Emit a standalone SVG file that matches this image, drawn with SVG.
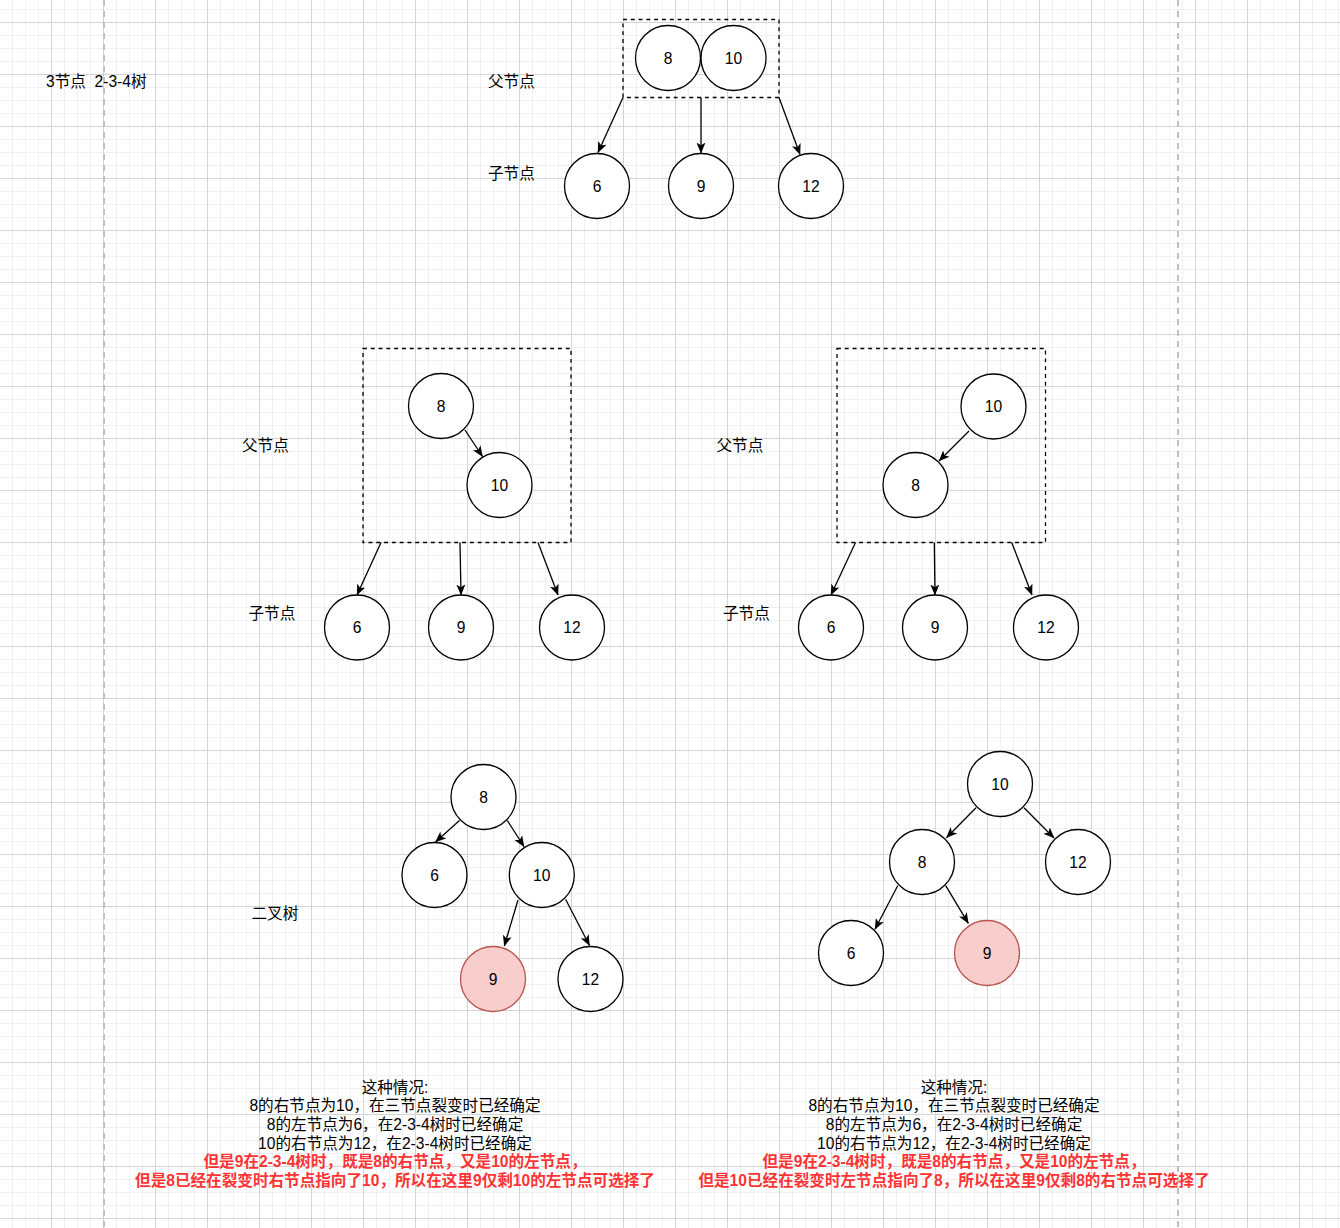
<svg xmlns="http://www.w3.org/2000/svg" width="1340" height="1228" viewBox="0 0 1340 1228">
<style>
text{font-family:"Liberation Sans","Noto Sans CJK SC",sans-serif;font-size:15.6px;fill:#000}
.c{fill:#fff;stroke:#000;stroke-width:1.3}
.r{fill:#f8cecc;stroke:#b85450;stroke-width:1.3}
.n{text-anchor:middle}
.box{fill:none;stroke:#000;stroke-width:1.3;stroke-dasharray:3.9 3.9}
.e{fill:none;stroke:#000;stroke-width:1.3;marker-end:url(#arr)}
.red{fill:#ff3333;font-weight:bold}
.sep{stroke:#c0c0c0;stroke-width:2;stroke-dasharray:6 5}
</style>
<defs>
<pattern id="minor" patternUnits="userSpaceOnUse" x="12" y="9" width="13" height="13">
<rect x="0" y="0" width="1" height="13" fill="#f0f0f0"/>
<rect x="0" y="0" width="13" height="1" fill="#f0f0f0"/>
</pattern>
<pattern id="major" patternUnits="userSpaceOnUse" x="51" y="22" width="52" height="52">
<rect x="0" y="0" width="1" height="52" fill="#d4d4d4"/>
<rect x="0" y="0" width="52" height="1" fill="#d4d4d4"/>
</pattern>
<marker id="arr" markerUnits="userSpaceOnUse" viewBox="0 0 11 9" markerWidth="11" markerHeight="9" refX="10.5" refY="4.5" orient="auto">
<path d="M0,0 L11,4.5 L0,9 L2.8,4.5 Z" fill="#000"/>
</marker>
</defs>
<rect width="1340" height="1228" fill="#fff"/>
<rect width="1340" height="1228" fill="url(#minor)"/>
<rect width="1340" height="1228" fill="url(#major)"/>
<line class="sep" x1="104" y1="0" x2="104" y2="1228"/>
<line class="sep" x1="1178" y1="0" x2="1178" y2="1228"/>

<text x="46" y="86.5" xml:space="preserve">3节点  2-3-4树</text>

<!-- top section -->
<g id="top-parent-box"><rect class="box" x="623" y="19.5" width="156" height="78"/></g>
<g id="top-8"><circle class="c" cx="668" cy="58" r="32.5"/><text class="n" x="668" y="63.6">8</text></g>
<g id="top-10"><circle class="c" cx="733.5" cy="58" r="32.5"/><text class="n" x="733.5" y="63.6">10</text></g>
<g id="top-6"><circle class="c" cx="597" cy="186" r="32.5"/><text class="n" x="597" y="191.6">6</text></g>
<g id="top-9"><circle class="c" cx="701" cy="186" r="32.5"/><text class="n" x="701" y="191.6">9</text></g>
<g id="top-12"><circle class="c" cx="811" cy="186" r="32.5"/><text class="n" x="811" y="191.6">12</text></g>
<g id="top-label-parent"><text x="488" y="87.2">父节点</text></g>
<g id="top-label-child"><text x="488" y="178.5">子节点</text></g>

<!-- middle left -->
<g id="ml-parent-box"><rect class="box" x="363" y="348.5" width="208" height="194"/></g>
<g id="ml-8"><circle class="c" cx="441" cy="406" r="32.5"/><text class="n" x="441" y="411.6">8</text></g>
<g id="ml-10"><circle class="c" cx="499.5" cy="485" r="32.5"/><text class="n" x="499.5" y="490.6">10</text></g>
<g id="ml-6"><circle class="c" cx="357" cy="627.5" r="32.5"/><text class="n" x="357" y="633.1">6</text></g>
<g id="ml-9"><circle class="c" cx="461" cy="627.5" r="32.5"/><text class="n" x="461" y="633.1">9</text></g>
<g id="ml-12"><circle class="c" cx="572" cy="627.5" r="32.5"/><text class="n" x="572" y="633.1">12</text></g>
<g id="ml-label-parent"><text x="242" y="450.5">父节点</text></g>
<g id="ml-label-child"><text x="248.5" y="619">子节点</text></g>

<!-- middle right -->
<g id="mr-parent-box"><rect class="box" x="837" y="348.5" width="208.5" height="194"/></g>
<g id="mr-10"><circle class="c" cx="993.5" cy="406.5" r="32.5"/><text class="n" x="993.5" y="412.1">10</text></g>
<g id="mr-8"><circle class="c" cx="915.5" cy="485" r="32.5"/><text class="n" x="915.5" y="490.6">8</text></g>
<g id="mr-6"><circle class="c" cx="831" cy="627.5" r="32.5"/><text class="n" x="831" y="633.1">6</text></g>
<g id="mr-9"><circle class="c" cx="935" cy="627.5" r="32.5"/><text class="n" x="935" y="633.1">9</text></g>
<g id="mr-12"><circle class="c" cx="1046" cy="627.5" r="32.5"/><text class="n" x="1046" y="633.1">12</text></g>
<g id="mr-label-parent"><text x="716.5" y="450.5">父节点</text></g>
<g id="mr-label-child"><text x="723" y="619">子节点</text></g>

<!-- bottom left binary tree -->
<g id="bl-8"><circle class="c" cx="483.5" cy="797" r="32.5"/><text class="n" x="483.5" y="802.6">8</text></g>
<g id="bl-6"><circle class="c" cx="434.5" cy="875" r="32.5"/><text class="n" x="434.5" y="880.6">6</text></g>
<g id="bl-10"><circle class="c" cx="541.8" cy="875" r="32.5"/><text class="n" x="541.8" y="880.6">10</text></g>
<g id="bl-9"><circle class="r" cx="493" cy="979" r="32.5"/><text class="n" x="493" y="984.6">9</text></g>
<g id="bl-12"><circle class="c" cx="590.5" cy="979" r="32.5"/><text class="n" x="590.5" y="984.6">12</text></g>
<g id="bl-label"><text x="251.5" y="918.8">二叉树</text></g>

<!-- bottom right binary tree -->
<g id="br-10"><circle class="c" cx="1000" cy="784" r="32.5"/><text class="n" x="1000" y="789.6">10</text></g>
<g id="br-8"><circle class="c" cx="922" cy="862" r="32.5"/><text class="n" x="922" y="867.6">8</text></g>
<g id="br-12"><circle class="c" cx="1078" cy="862" r="32.5"/><text class="n" x="1078" y="867.6">12</text></g>
<g id="br-6"><circle class="c" cx="851" cy="953" r="32.5"/><text class="n" x="851" y="958.6">6</text></g>
<g id="br-9"><circle class="r" cx="987" cy="953" r="32.5"/><text class="n" x="987" y="958.6">9</text></g>

<!-- explanations -->
<g id="note-left" text-anchor="middle">
<text x="395" y="1092.5">这种情况:</text>
<text x="395" y="1111.2">8的右节点为10，在三节点裂变时已经确定</text>
<text x="395" y="1129.9">8的左节点为6，在2-3-4树时已经确定</text>
<text x="395" y="1148.6">10的右节点为12，在2-3-4树时已经确定</text>
<text class="red" x="395" y="1167.3">但是9在2-3-4树时，既是8的右节点，又是10的左节点，</text>
<text class="red" x="395" y="1186">但是8已经在裂变时右节点指向了10，所以在这里9仅剩10的左节点可选择了</text>
</g>
<g id="note-right" text-anchor="middle">
<text x="954" y="1092.5">这种情况:</text>
<text x="954" y="1111.2">8的右节点为10，在三节点裂变时已经确定</text>
<text x="954" y="1129.9">8的左节点为6，在2-3-4树时已经确定</text>
<text x="954" y="1148.6">10的右节点为12，在2-3-4树时已经确定</text>
<text class="red" x="954" y="1167.3">但是9在2-3-4树时，既是8的右节点，又是10的左节点，</text>
<text class="red" x="954" y="1186">但是10已经在裂变时左节点指向了8，所以在这里9仅剩8的右节点可选择了</text>
</g>

<g id="connectors">
<line class="e" x1="623" y1="97.5" x2="598" y2="152.5"/>
<line class="e" x1="701" y1="97.5" x2="701" y2="153"/>
<line class="e" x1="779" y1="97.5" x2="800" y2="154.5"/>

<line class="e" x1="465" y1="430" x2="482.5" y2="456.5"/>
<line class="e" x1="381" y1="542.5" x2="357" y2="595"/>
<line class="e" x1="460" y1="542.5" x2="461" y2="595"/>
<line class="e" x1="538" y1="542.5" x2="558" y2="595"/>

<line class="e" x1="969" y1="431" x2="939" y2="461"/>
<line class="e" x1="855.5" y1="542.5" x2="831" y2="595"/>
<line class="e" x1="934.3" y1="542.5" x2="935" y2="595"/>
<line class="e" x1="1011.7" y1="542.5" x2="1032" y2="595"/>

<line class="e" x1="459.5" y1="820.5" x2="435.5" y2="842"/>
<line class="e" x1="507.3" y1="820.5" x2="524" y2="846.5"/>
<line class="e" x1="518" y1="900" x2="504.3" y2="946"/>
<line class="e" x1="565.7" y1="899.5" x2="589.5" y2="945.5"/>

<line class="e" x1="976" y1="807.7" x2="946.5" y2="837.7"/>
<line class="e" x1="1024" y1="807.7" x2="1054" y2="838"/>
<line class="e" x1="897.7" y1="885.7" x2="875" y2="929.3"/>
<line class="e" x1="945.7" y1="885.7" x2="968.3" y2="923.3"/>
</g>
</svg>
